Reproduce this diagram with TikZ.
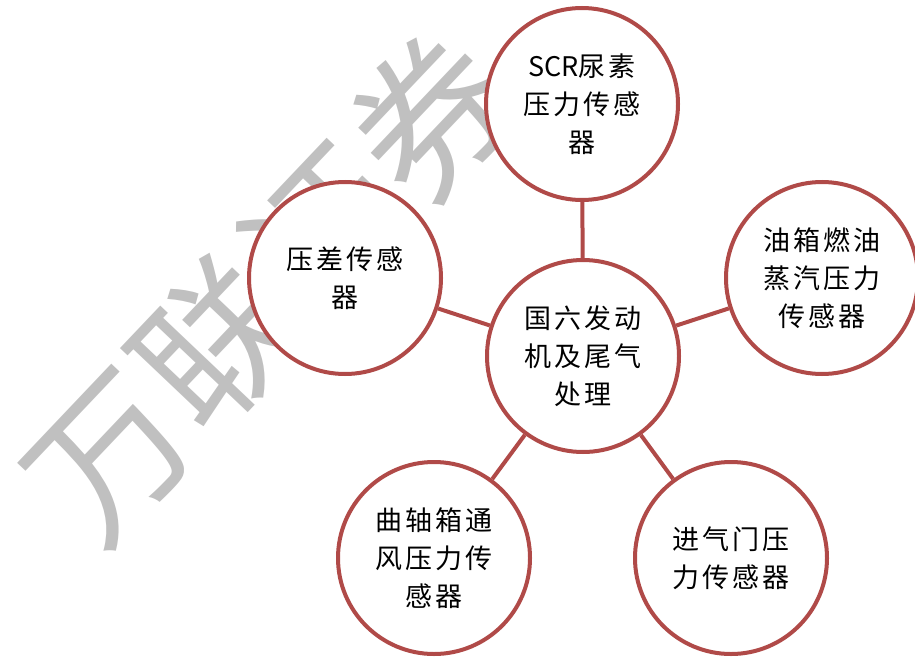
\documentclass[tikz,border=0pt]{standalone}
\usepackage{fontspec}
\newfontfamily\cjk[LetterSpace=12]{Noto Sans CJK SC}
\newfontfamily\wmfont{Noto Sans CJK SC}
\definecolor{bubred}{HTML}{B04A48}
\definecolor{wmgray}{HTML}{C0C0C0}
\begin{document}
\begin{tikzpicture}[x=1pt,y=-1pt,
  bubble/.style={circle, draw=bubred, line width=4pt, fill=white,
    minimum size=192pt, inner sep=0pt, align=center,
    font=\cjk\fontsize{27}{38}\selectfont},
  link/.style={draw=bubred, line width=4pt},
  watermark/.style={text=wmgray, font=\wmfont\fontsize{156}{160}\selectfont, inner sep=0pt}]
\useasboundingbox (0,0) rectangle (915,658);
\node[watermark, rotate=46.5] (wm) at (270,286) {万联证券};

\node[bubble] (core) at (583,356) {国六发动\\机及尾气\\处理};
\node[bubble] (scr) at (582,104) {{\wmfont SCR}尿素\\压力传感\\器};
\node[bubble] (dp) at (345,278) {压差传感\\器};
\node[bubble] (tank) at (822,278) {油箱燃油\\蒸汽压力\\传感器};
\node[bubble] (crank) at (434,558) {曲轴箱通\\风压力传\\感器};
\node[bubble] (intake) at (731,558) {进气门压\\力传感器};

\draw[link] (core) -- (scr);
\draw[link] (core) -- (dp);
\draw[link] (core) -- (tank);
\draw[link] (core) -- (crank);
\draw[link] (core) -- (intake);
\end{tikzpicture}
\end{document}
